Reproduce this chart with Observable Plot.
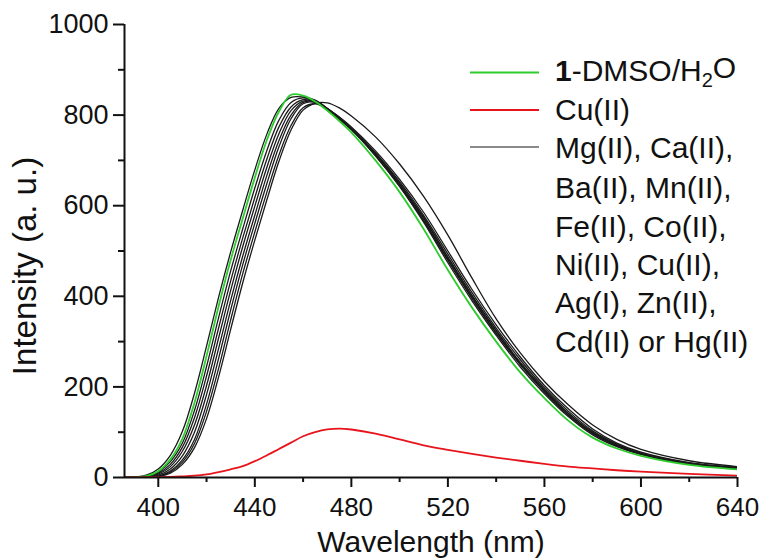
<!DOCTYPE html>
<html><head><meta charset="utf-8">
<script src="https://cdn.jsdelivr.net/npm/d3@7"></script>
<script src="https://cdn.jsdelivr.net/npm/@observablehq/plot@0.6"></script>
<style>
body{margin:0;background:#fff;}
#chart{position:relative;width:764px;height:558px;}
</style></head><body><div id="chart"></div>
<script>
const wavelengths = [385,390,395,400,405,410,415,420,425,430,435,440,445,450,455,460,465,470,475,480,490,500,510,520,530,540,550,560,570,580,590,600,620,640];
// 1-DMSO/H2O (green)
const dmsoH2O = [0,0.5,3,14,40,86,165,268,378,480,572,662,745,808,845,843,830,810,787,762,700,630,548,458,375,300,232,175,125,88,64,48,28,18];
// Cu(II) (red)
const cuII = [0,0.2,0.5,1,1.5,2.5,4,7,12,18,25,36,49,63,77,91,100,106,108,106,97,84,71,61,52,44,37,30,24,20,16,13,8,4];
// other metal ions (black)
const ionsA = [0,1,5,19,49,102,186,290,398,498,590,679,758,815,839,840,833,815,793,769,710,642,563,474,390,314,244,185,134,94,68,51,30,19];
const ionsB = [0,0.4,2.5,12,35,76,148,245,353,456,549,639,722,789,828,838,832,815,795,771,713,646,568,481,397,320,250,190,138,97,70,52,30,19];
const ionsC = [0,0.3,2,9.6,29,67,132,224,330,434,529,618,703,774,818,834,832,814,791,768,710,644,566,479,395,318,249,189,137,97,70,51,31,21];
const ionsD = [0,0.2,1.5,7.4,24,58,116,203,308,413,510,599,685,759,810,831,830,814,794,771,716,650,574,487,402,325,254,194,142,100,72,53,31,20];
const ionsE = [0,0.1,1,5.2,19,48,100,183,285,391,489,579,667,744,800,828,829,811,791,768,713,647,572,485,401,324,253,193,141,100,72,53,31,22];
const ionsF = [0,0,0.5,3,14,39,84,162,263,370,470,561,649,730,792,825,828,813,794,771,717,653,578,493,408,330,260,198,146,103,74,54,32,23];
const ionsG = [0,0,0.4,2.4,11.5,34,75,146,241,348,450,542,630,712,777,816,825,814,796,774,721,658,585,500,415,337,266,203,151,107,76,56,33,21];
const ionsH = [0,0,0.3,2,9.4,29,66,130,222,327,430,524,613,698,767,811,826,827,816,798,752,692,620,535,440,350,275,212,160,116,84,62,37,24];

const xMajorTicks = [400,440,480,520,560,600,640];
const xMinorTicks = [420,460,500,540,580,620];
const yMajorTicks = [0,200,400,600,800,1000];
const yMinorTicks = [100,300,500,700,900];
const xDomain = [386, 640];
const yDomain = [0, 1000];

const legendLabels = ["Cu(II)", "Mg(II), Ca(II),", "Ba(II), Mn(II),", "Fe(II), Co(II),", "Ni(II), Cu(II),", "Ag(I), Zn(II),", "Cd(II) or Hg(II)"];

const toRows = (vals, s) => wavelengths.map((w, i) => ({w, v: vals[i], s}));
const blackRows = [ionsA, ionsB, ionsC, ionsD, ionsE, ionsF, ionsG, ionsH].flatMap((a, k) => toRows(a, "ion" + k));
const greenRows = toRows(dmsoH2O, "dmso");
const redRows = toRows(cuII, "cu");

const FONT = "'Liberation Sans', Arial, Helvetica, sans-serif";
const chart = Plot.plot({
  width: 764, height: 558,
  marginLeft: 124, marginRight: 27, marginTop: 24, marginBottom: 81,
  x: {domain: xDomain},
  y: {domain: yDomain},
  style: {fontFamily: FONT, background: "#fff", color: "#111"},
  marks: [
    Plot.line(blackRows, {x: "w", y: "v", z: "s", stroke: "#1a1a1a", strokeWidth: 1.3, curve: "catmull-rom", clip: true}),
    Plot.line(greenRows, {x: "w", y: "v", stroke: "#2ccc2c", strokeWidth: 1.8, curve: "catmull-rom", clip: true}),
    Plot.line(redRows, {x: "w", y: "v", stroke: "#e8141c", strokeWidth: 1.8, curve: "catmull-rom", clip: true}),
    Plot.axisX(xMajorTicks, {tickSize: 10, tickPadding: 10, strokeWidth: 2, fontSize: 26, label: null, tickFormat: d => String(d)}),
    Plot.axisX(xMinorTicks, {tickSize: 5, strokeWidth: 2, label: null, tickFormat: () => ""}),
    Plot.axisY(yMajorTicks, {tickSize: 11, tickPadding: 5, strokeWidth: 2, fontSize: 27, label: null, tickFormat: d => String(d)}),
    Plot.axisY(yMinorTicks, {tickSize: 6, strokeWidth: 2, label: null, tickFormat: () => ""}),
    Plot.ruleY([yDomain[0]], {stroke: "#111", strokeWidth: 2}),
    Plot.ruleX([xDomain[0]], {stroke: "#111", strokeWidth: 2}),
    Plot.text(["Wavelength (nm)"], {frameAnchor: "bottom", textAnchor: "middle", lineAnchor: "middle", dy: 65, fontSize: 30, fill: "#111"}),
    Plot.text(["Intensity (a. u.)"], {frameAnchor: "left", textAnchor: "middle", lineAnchor: "middle", rotate: -90, dx: -99, dy: 15, fontSize: 33, fill: "#111"})
  ]
});
document.getElementById("chart").appendChild(chart);

// legend
const svg = d3.select(chart);
const lg = svg.append("g").attr("font-family", FONT).attr("font-size", 30).attr("fill", "#111").attr("text-anchor", "start");
const lineItems = [["#2ccc2c", 72.5], ["#e8141c", 110], ["#8a8a8a", 147]];
lineItems.forEach(([c, y]) => lg.append("line").attr("x1", 470).attr("x2", 539).attr("y1", y).attr("y2", y).attr("stroke", c).attr("stroke-width", 2.2));
const rowY = [70, 109, 147, 187, 226, 264, 302, 341];
const t0 = lg.append("text").attr("x", 555).attr("y", rowY[0]).attr("dy", "0.35em");
t0.append("tspan").attr("font-weight", "bold").text("1");
t0.append("tspan").text("-DMSO/H");
t0.append("tspan").attr("font-size", 20).attr("dy", "0.3em").text("2");
t0.append("tspan").attr("dy", "-0.3em").text("O");
legendLabels.forEach((s, i) => lg.append("text").attr("x", 555).attr("y", rowY[i + 1]).attr("dy", "0.35em").text(s));
</script></body></html>
